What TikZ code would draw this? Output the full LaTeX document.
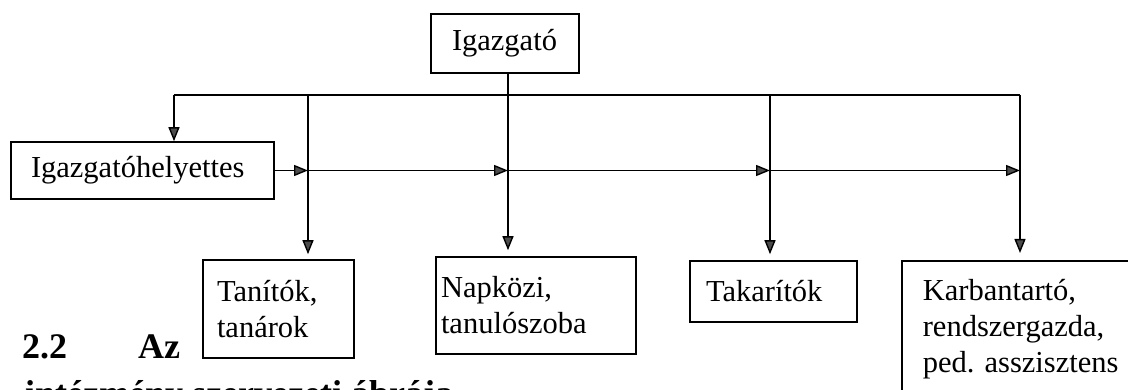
\documentclass[tikz,border=0pt]{standalone}
\usepackage{fontspec}
\setmainfont{Liberation Serif}
\usetikzlibrary{arrows.meta}
\begin{document}
\begin{tikzpicture}[x=1pt,y=-1pt,
  box/.style={draw, line width=1.6pt, inner ysep=0pt, font=\fontsize{30.5}{36}\selectfont, align=left},
  conn/.style={line width=1.4pt},
  arr/.style={conn, -{Triangle[length=14pt,width=11pt,fill=black!70]}},
  head/.style={font=\bfseries\fontsize{36}{42}\selectfont, inner sep=0pt, anchor=base west}]
\useasboundingbox (0,0) rectangle (1128,390);

% boxes
\node[box, inner xsep=21pt, text width=106pt, minimum height=59pt] (ig) at (505,43.5) {Igazgató};
\node[box, inner xsep=20pt, text width=223pt, minimum height=57pt] (ih) at (142.5,170.5) {Igazgatóhelyettes};
\node[box, inner xsep=14pt, text width=123pt, minimum height=98pt] (tan) at (278.5,309) {Tanítók,\\tanárok};
\node[box, inner xsep=5pt, text width=190pt, minimum height=97pt] (nap) at (536,305.5) {Napközi,\\tanulószoba};
\node[box, inner xsep=16pt, text width=135pt, minimum height=61pt] (tak) at (773.5,291.5) {Takarítók};
\node[box, inner xsep=21pt, inner ysep=18pt, text width=230pt, anchor=north west] (kar) at (901,260) {Karbantartó,\\rendszergazda,\\ped.\ asszisztens};

% junctions
\coordinate (tl) at (174,95);
\coordinate (tr) at (1020,95);
\coordinate (j1) at (308,95);
\coordinate (j2) at (508,95);
\coordinate (j3) at (770,95);

% connectors
\draw[conn] (tl) -- (tr);
\draw[arr] (tl) -- (tl |- ih.north);
\draw[arr, shorten >=5pt] (j1) -- (j1 |- tan.north);
\draw[arr, shorten >=6pt] (ig.south -| j2) -- (j2 |- nap.north);
\draw[arr, shorten >=6pt] (j3) -- (j3 |- tak.north);
\draw[arr, shorten >=7pt] (tr) -- (tr |- kar.north);

\draw[arr] (ih.east) -- (j1 |- ih.east);
\draw[arr] (j1 |- ih.east) -- (j2 |- ih.east);
\draw[arr] (j2 |- ih.east) -- (j3 |- ih.east);
\draw[arr] (j3 |- ih.east) -- (tr |- ih.east);

% heading text
\node[head] (h1) at (22,358) {2.2};
\node[head] (h2) at (138,358) {Az};
\node[head] (h3) at (25,405) {intézmény szervezeti ábrája};
\end{tikzpicture}
\end{document}
